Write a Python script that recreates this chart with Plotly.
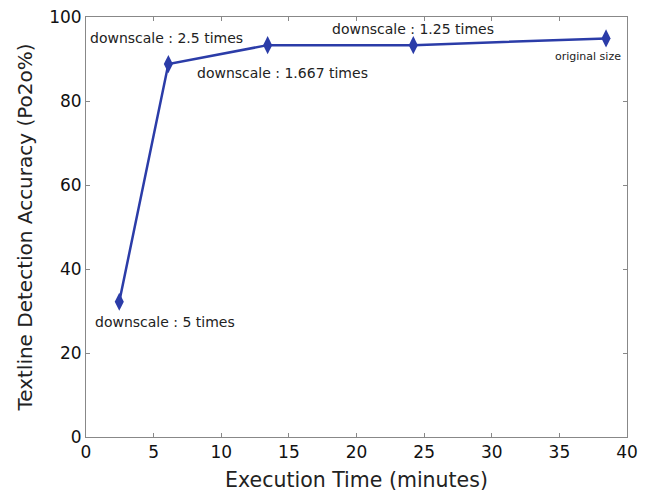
import plotly.graph_objects as go

exec_time = [2.46, 6.09, 13.43, 24.2, 38.45]
accuracy = [32.2, 88.8, 93.3, 93.3, 94.9]
labels = ["downscale : 5 times", "downscale : 2.5 times", "downscale : 1.667 times",
          "downscale : 1.25 times", "original size"]
x_ticks = [0, 5, 10, 15, 20, 25, 30, 35, 40]
y_ticks = [0, 20, 40, 60, 80, 100]

# label offsets in pixels (left edge x shift, vertical shift)
label_shifts = [(-26, -20), (-80, 26), (-73, -28), (-83, 16), (-53, -18)]
label_sizes = [14, 14, 14, 14, 11]

fig = go.Figure()
fig.add_trace(go.Scatter(
    x=exec_time, y=accuracy, mode="lines+markers",
    line=dict(color="#2b3ca8", width=2.5),
    marker=dict(symbol="diamond-tall", size=13, color="#2b3ca8"),
    showlegend=False,
))

for xv, yv, txt, (dx, dy), fs in zip(exec_time, accuracy, labels, label_shifts, label_sizes):
    fig.add_annotation(x=xv, y=yv, text=txt, showarrow=False, xanchor="left",
                       yanchor="middle", xshift=dx, yshift=dy,
                       font=dict(size=fs, color="#222222", family="DejaVu Sans"))

axis_common = dict(showgrid=False, zeroline=False, showline=True, linecolor="#888888",
                   linewidth=1, mirror="ticks", ticks="inside", ticklen=4,
                   tickcolor="#888888", tickfont=dict(size=17, color="#111111"),
                   automargin=False)

fig.update_xaxes(range=[0, 40], tickvals=x_ticks, title=dict(text="Execution Time (minutes)",
                 font=dict(size=20.5, color="#222222"), standoff=13), **axis_common)
fig.update_yaxes(range=[0, 100], tickvals=y_ticks, title=dict(text="Textline Detection Accuracy (Po2o%)",
                 font=dict(size=20, color="#222222"), standoff=11), **axis_common)

fig.update_layout(
    width=647, height=492,
    margin=dict(l=86, r=20, t=17, b=55),
    paper_bgcolor="white", plot_bgcolor="white",
    font=dict(family="DejaVu Sans"),
)

fig.write_html("out.html")
